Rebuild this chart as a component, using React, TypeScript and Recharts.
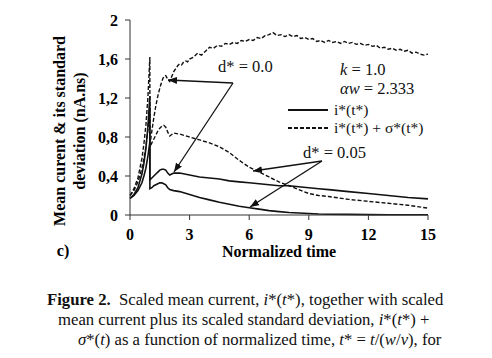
import { LineChart, Line, XAxis, YAxis, Legend } from "recharts";

// shared time grid for the three smooth curves (t = 1 appears twice: peak then drop)
const TIME = [
  0, 0.2, 0.4, 0.6, 0.7, 0.8, 0.9, 1.0, 1.0, 1.1, 1.2, 1.3, 1.4, 1.5, 1.6, 1.7,
  1.8, 1.9, 2.0, 2.2, 2.5, 3, 3.5, 4, 4.5, 5, 5.5, 6, 6.5, 7, 7.5, 8, 8.5, 9,
  9.5, 10, 11, 12, 13, 14, 15,
];
// i*(t*), d* = 0.0
const MEAN_D0 = [
  0.17, 0.21, 0.28, 0.42, 0.53, 0.68, 0.9, 1.22, 0.36, 0.38, 0.4, 0.42, 0.44,
  0.46, 0.47, 0.47, 0.46, 0.43, 0.41, 0.43, 0.43, 0.41, 0.39, 0.38, 0.37, 0.35,
  0.34, 0.33, 0.32, 0.31, 0.3, 0.3, 0.29, 0.28, 0.27, 0.26, 0.24, 0.22, 0.2,
  0.18, 0.165,
];
// i*(t*), d* = 0.05
const MEAN_D05 = [
  0.17, 0.2, 0.25, 0.33, 0.4, 0.48, 0.6, 0.75, 0.27, 0.28, 0.3, 0.31, 0.32,
  0.33, 0.33, 0.32, 0.31, 0.28, 0.26, 0.25, 0.24, 0.21, 0.18, 0.155, 0.13, 0.11,
  0.09, 0.075, 0.06, 0.045, 0.035, 0.025, 0.02, 0.015, 0.01, 0.008, 0.006,
  0.004, 0.003, 0.002, 0.002,
];
// i*(t*) + sigma*(t*), d* = 0.05
const UPPER_D05 = [
  0.2, 0.25, 0.34, 0.48, 0.58, 0.7, 0.88, 1.1, 0.7, 0.74, 0.78, 0.82, 0.86,
  0.89, 0.91, 0.92, 0.9, 0.85, 0.81, 0.84, 0.83, 0.8, 0.77, 0.74, 0.7, 0.64,
  0.56, 0.49, 0.44, 0.39, 0.34, 0.3, 0.26, 0.22, 0.2, 0.19, 0.16, 0.14, 0.12,
  0.1, 0.07,
];

// finer grid for the noisy upper curve
const TIME_FINE = [
  0, 0.2, 0.4, 0.6, 0.7, 0.8, 0.9, 1.0, 1.0, 1.1, 1.2, 1.3, 1.4, 1.5, 1.6, 1.7,
  1.8, 1.9, 2.0, 2.1, 2.2, 2.3, 2.4, 2.5, 2.6, 2.7, 2.8, 2.9, 3.0, 3.2, 3.4,
  3.6, 3.8, 4.0, 4.2, 4.4, 4.6, 4.8, 5.0, 5.2, 5.4, 5.6, 5.8, 6.0, 6.2, 6.4,
  6.6, 6.8, 7.0, 7.2, 7.4, 7.6, 7.8, 8.0, 8.2, 8.4, 8.6, 8.8, 9.0, 9.2, 9.4,
  9.6, 9.8, 10.0, 10.2, 10.4, 10.6, 10.8, 11.0, 11.2, 11.4, 11.6, 11.8, 12.0,
  12.2, 12.4, 12.6, 12.8, 13.0, 13.2, 13.4, 13.6, 13.8, 14.0, 14.2, 14.4, 14.6,
  14.8, 15.0,
];
// i*(t*) + sigma*(t*), d* = 0.0
const UPPER_D0 = [
  0.2, 0.27, 0.38, 0.58, 0.73, 0.92, 1.2, 1.62, 0.72, 0.86, 1.0, 1.12, 1.22,
  1.3, 1.37, 1.42, 1.43, 1.39, 1.37, 1.42, 1.47, 1.5, 1.53, 1.55, 1.54, 1.57,
  1.58, 1.57, 1.6, 1.62, 1.66, 1.64, 1.68, 1.72, 1.71, 1.74, 1.73, 1.76, 1.75,
  1.77, 1.76, 1.79, 1.78, 1.8, 1.79, 1.82, 1.81, 1.84, 1.85, 1.87, 1.84, 1.85,
  1.83, 1.85, 1.83, 1.84, 1.81, 1.82, 1.8, 1.81, 1.78, 1.79, 1.77, 1.79, 1.77,
  1.78, 1.76, 1.78, 1.76, 1.77, 1.75, 1.76, 1.74, 1.75, 1.73, 1.74, 1.71, 1.72,
  1.7, 1.71, 1.69, 1.7, 1.68, 1.69, 1.66, 1.67, 1.65, 1.64, 1.65,
];

const X_TICKS = [0, 3, 6, 9, 12, 15];
const Y_TICKS = [0, 0.4, 0.8, 1.2, 1.6, 2];

const LEGEND_ITEMS = [
  { label: "i*(t*)", dash: undefined },
  { label: "i*(t*) + σ*(t*)", dash: "4 2" },
];

const SERIF = "Liberation Serif, serif";
const INK = "#111";

const rows = (ts: number[], vs: number[]) => ts.map((t, i) => ({ t, v: vs[i] }));

const tickStyle = { fill: "#000", fontFamily: SERIF, fontWeight: 700, fontSize: 16 };

function LegendBox() {
  return (
    <div style={{ fontFamily: SERIF, fontSize: 15.5, color: "#111", lineHeight: "18px" }}>
      {LEGEND_ITEMS.map((it) => (
        <div key={it.label} style={{ display: "flex", alignItems: "center" }}>
          <svg width={44} height={10} style={{ marginRight: 4 }}>
            <line x1={2} y1={5} x2={42} y2={5} stroke={INK} strokeWidth={2} strokeDasharray={it.dash} />
          </svg>
          <span>{it.label}</span>
        </div>
      ))}
    </div>
  );
}

function Notes() {
  const arrows = [
    { x1: 233, y1: 83, x2: 168, y2: 80 },
    { x1: 233, y1: 83, x2: 174, y2: 172 },
    { x1: 322, y1: 161, x2: 253, y2: 171 },
    { x1: 322, y1: 161, x2: 250, y2: 207 },
  ];
  return (
    <svg
      width={492}
      height={270}
      style={{ position: "absolute", left: 0, top: 0, pointerEvents: "none" }}
    >
      <defs>
        <marker id="head" markerWidth={9} markerHeight={7} refX={9} refY={3.5} orient="auto" markerUnits="userSpaceOnUse">
          <path d="M0,0 L9,3.5 L0,7 z" fill={INK} />
        </marker>
      </defs>
      {arrows.map((a, i) => (
        <line key={i} {...a} stroke={INK} strokeWidth={1.3} markerEnd="url(#head)" />
      ))}
      <g style={{ fontFamily: SERIF, fontSize: 16.5 }} fill={INK}>
        <text x={218} y={72}>d* = 0.0</text>
        <text x={303} y={158}>d* = 0.05</text>
        <text x={340} y={75}>
          <tspan fontStyle="italic">k</tspan> = 1.0
        </text>
        <text x={340} y={94}>
          <tspan fontStyle="italic">αw</tspan> = 2.333
        </text>
      </g>
      <g style={{ fontFamily: SERIF, fontSize: 16, fontWeight: 700 }} fill="#000" textAnchor="middle">
        <text transform="translate(59,131) rotate(-90)" dominantBaseline="central">
          Mean curent &amp; its standard
        </text>
        <text transform="translate(79,131) rotate(-90)" dominantBaseline="central">
          deviation (nA.ns)
        </text>
        <text x={63} y={256}>c)</text>
      </g>
    </svg>
  );
}

export default function App() {
  const capLine = { position: "absolute" as const, whiteSpace: "nowrap" as const };
  return (
    <div style={{ position: "absolute", left: 0, top: 0, width: 492, height: 358, background: "#fff", overflow: "hidden" }}>
      <LineChart width={492} height={270} margin={{ top: 20, right: 64, bottom: 0, left: 0 }}>
        <XAxis
          dataKey="t"
          type="number"
          domain={[0, 15]}
          ticks={X_TICKS}
          height={55}
          tickSize={5}
          tickMargin={9}
          stroke="#333"
          tick={tickStyle}
          label={{ value: "Normalized time", position: "insideBottom", offset: 13, style: { fill: "#000", fontFamily: SERIF, fontWeight: 700, fontSize: 16 } }}
        />
        <XAxis xAxisId="top" orientation="top" type="number" domain={[0, 15]} height={0} tick={false} tickLine={false} stroke="#333" />
        <YAxis
          type="number"
          domain={[0, 2]}
          ticks={Y_TICKS}
          width={130}
          tickSize={5}
          tickMargin={7}
          stroke="#333"
          tick={tickStyle}
          tickFormatter={(v: number) => String(v).replace(".", ",")}
        />
        <YAxis yAxisId="right" orientation="right" type="number" domain={[0, 2]} width={0} tick={false} tickLine={false} stroke="#333" />
        <Line data={rows(TIME_FINE, UPPER_D0)} dataKey="v" type="linear" stroke={INK} strokeWidth={1.4} strokeDasharray="4 2" dot={false} isAnimationActive={false} />
        <Line data={rows(TIME, UPPER_D05)} dataKey="v" type="linear" stroke={INK} strokeWidth={1.4} strokeDasharray="4 2" dot={false} isAnimationActive={false} />
        <Line data={rows(TIME, MEAN_D0)} dataKey="v" type="linear" stroke={INK} strokeWidth={1.6} dot={false} isAnimationActive={false} />
        <Line data={rows(TIME, MEAN_D05)} dataKey="v" type="linear" stroke={INK} strokeWidth={1.6} dot={false} isAnimationActive={false} />
        <Legend
          layout="horizontal"
          verticalAlign="middle"
          align="center"
          wrapperStyle={{ top: 101, left: 286, width: 150 }}
          content={() => <LegendBox />}
        />
      </LineChart>
      <Notes />
      <div style={{ position: "absolute", left: 0, top: 290, fontFamily: SERIF, fontSize: 16.7, lineHeight: "20px", color: "#111" }}>
        <div style={{ ...capLine, left: 47, top: 0 }}>
          <b>Figure 2.</b>&nbsp; Scaled mean current, <i>i</i>*(<i>t</i>*), together with scaled
        </div>
        <div style={{ ...capLine, left: 58, top: 20 }}>
          mean current plus its scaled standard deviation, <i>i</i>*(<i>t</i>*) +
        </div>
        <div style={{ ...capLine, left: 78, top: 40 }}>
          <i>σ</i>*(<i>t</i>) as a function of normalized time, <i>t</i>* = <i>t</i>/(<i>w</i>/<i>v</i>), for
        </div>
      </div>
    </div>
  );
}
